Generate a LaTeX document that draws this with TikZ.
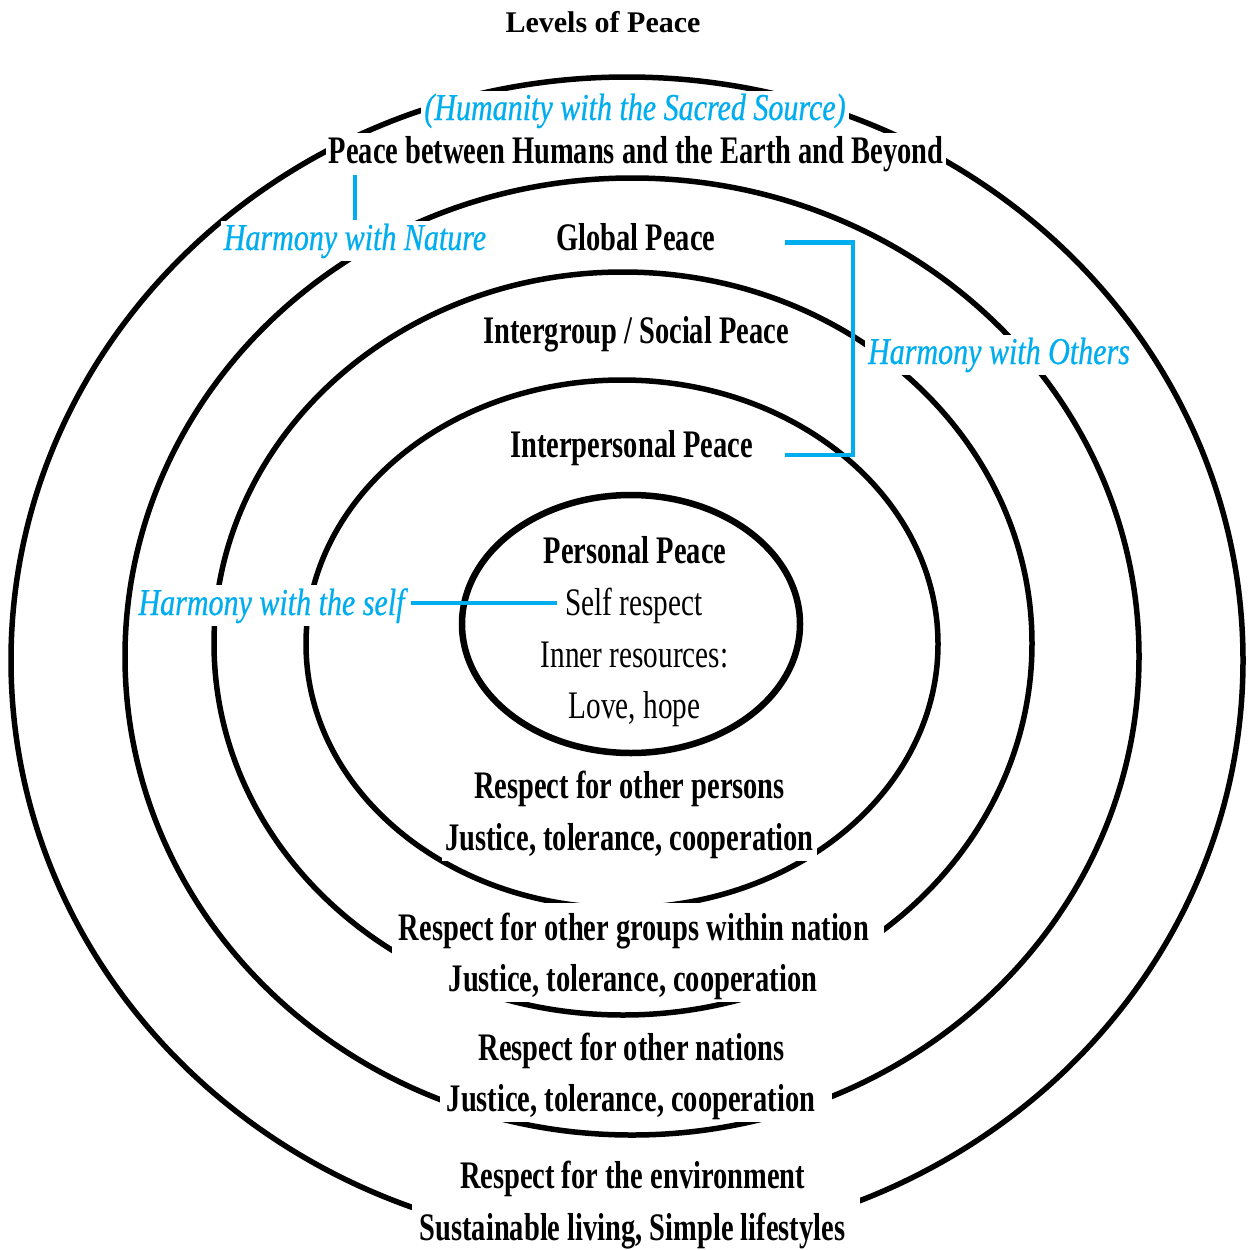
\documentclass[tikz,border=0pt]{standalone}
\usepackage{fontspec}
\newfontfamily\condfont[FakeStretch=0.73]{Liberation Serif}
\newfontfamily\regfont[FakeStretch=0.75]{Liberation Serif}
\newfontfamily\bluefont[FakeStretch=0.79,FakeBold=0.6]{Liberation Serif}
\newfontfamily\titlefont{Liberation Serif}
\definecolor{peaceblue}{RGB}{0,174,239}
\begin{document}
\begin{tikzpicture}[x=1pt,y=-1pt,
  ring/.style={draw=black,line width=5.5pt},
  innerring/.style={draw=black,line width=6.5pt},
  lbl/.style={font=\condfont\bfseries\fontsize{39}{46}\selectfont, anchor=base, inner sep=3pt, fill=white},
  rlbl/.style={font=\regfont\fontsize{39}{46}\selectfont, anchor=base, inner sep=3pt},
  blbl/.style={font=\bluefont\itshape\fontsize{38}{46}\selectfont, text=peaceblue, anchor=base, inner sep=3pt, fill=white},
  bline/.style={draw=peaceblue, line width=4.5pt},
  tline/.style={draw=peaceblue, line width=3.5pt},
  mask/.style={fill=white}]
\useasboundingbox (0,0) rectangle (1248,1250);
\fill[white] (0,0) rectangle (1248,1250);
% rings
\draw[ring] (627,660.4) ellipse [x radius=616, y radius=583.4];
\draw[ring] (632,656.5) ellipse [x radius=507, y radius=478.5];
\draw[ring] (623,643.5) ellipse [x radius=409, y radius=371.5];
\draw[ring] (622,644) ellipse [x radius=316, y radius=264];
\draw[innerring] (631,624) ellipse [x radius=169, y radius=129];
% white panels behind the lower text pairs
\fill[mask] (392,903) rectangle (884,1000);
\fill[mask] (440,1022) rectangle (832,1116);
\fill[mask] (412,1142) rectangle (860,1250);
% title
\node[font=\titlefont\bfseries\fontsize{30}{36}\selectfont, anchor=base] (title) at (603,32) {Levels of Peace};
% top labels
\node[blbl] (sacred) at (635,120) {(Humanity with the Sacred Source)};
\node[lbl] (earth) at (636,163) {Peace between Humans and the Earth and Beyond};
\node[blbl] (nature) at (355,250) {Harmony with Nature};
\node[lbl] (global) at (636,250) {Global Peace};
\node[lbl] (social) at (636,343) {Intergroup / Social Peace};
\node[blbl] (others) at (999,364) {Harmony with Others};
\node[lbl, minimum width=322pt] (interp) at (631.5,457) {Interpersonal Peace};
% inner
\node[lbl] (personal) at (635,563) {Personal Peace};
\node[rlbl] (selfresp) at (634,615) {Self respect};
\node[blbl] (selfblue) at (271.5,615) {Harmony with the self};
\node[rlbl] (inner) at (634.5,667) {Inner resources:};
\node[rlbl] (love) at (634.5,718) {Love, hope};
% bottom
\node[lbl] (persons) at (629.5,798) {Respect for other persons};
\node[lbl] (just1) at (629.5,850) {Justice, tolerance, cooperation};
\node[lbl] (groups) at (634,940) {Respect for other groups within nation};
\node[lbl] (just2) at (633,991) {Justice, tolerance, cooperation};
\node[lbl] (nations) at (631.5,1060) {Respect for other nations};
\node[lbl] (just3) at (631,1111) {Justice, tolerance, cooperation};
\node[lbl] (env) at (632.5,1188) {Respect for the environment};
\node[lbl] (sust) at (632.5,1240) {Sustainable living, Simple lifestyles};
% connectors
\draw[tline] (nature.north |- earth.south) -- (nature.north);
\coordinate (bt) at (785,242.5);
\coordinate (bb) at (785,455);
\draw[bline] (bt) -- (853,242.5) -- (853,455) -- (bb);
\draw[bline] ([xshift=3pt,yshift=12pt]selfblue.base east) -- ([xshift=-5pt,yshift=12pt]selfresp.base west);
\end{tikzpicture}
\end{document}
